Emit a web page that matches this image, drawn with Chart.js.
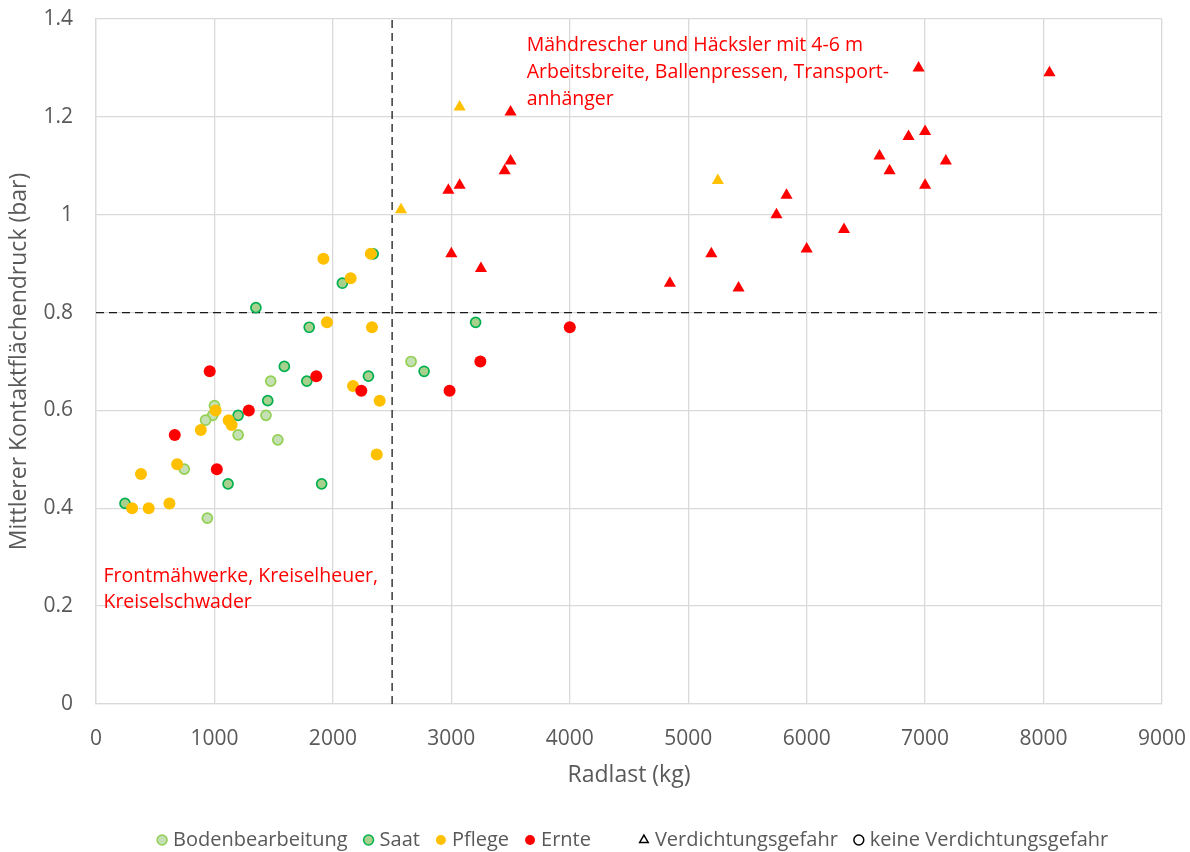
<!DOCTYPE html>
<html><head><meta charset="utf-8">
<script src="https://cdn.jsdelivr.net/npm/chart.js@4.4.1/dist/chart.umd.min.js"></script>
<style>html,body{margin:0;padding:0;background:#fff}#wrap{width:1190px;height:852px;position:relative}</style>
</head><body><div id="wrap"><canvas id="c" width="1190" height="852"></canvas></div>
<script>
// ---------- data ----------
const bodenX = [1475, 1000, 985, 925, 1435, 1200, 1535, 745, 940, 2660];
const bodenY = [0.66, 0.61, 0.59, 0.58, 0.59, 0.55, 0.54, 0.48, 0.38, 0.70];

const saatX = [2080, 1350, 1800, 1590, 1780, 1450, 1200, 1115, 1905, 245, 2340, 2770, 2300, 3205];
const saatY = [0.86, 0.81, 0.77, 0.69, 0.66, 0.62, 0.59, 0.45, 0.45, 0.41, 0.92, 0.68, 0.67, 0.78];

const pflegeX = [1920, 1950, 1010, 1120, 1145, 885, 685, 380, 305, 445, 620, 2320, 2150, 2330, 2170, 2395, 2370];
const pflegeY = [0.91, 0.78, 0.60, 0.58, 0.57, 0.56, 0.49, 0.47, 0.40, 0.40, 0.41, 0.92, 0.87, 0.77, 0.65, 0.62, 0.51];

const pflegeTriX = [2575, 3070, 5250];
const pflegeTriY = [1.01, 1.22, 1.07];

const ernteX = [960, 1860, 1290, 665, 1020, 2240, 4000, 3245, 2985];
const ernteY = [0.68, 0.67, 0.60, 0.55, 0.48, 0.64, 0.77, 0.70, 0.64];

const ernteTriX = [2975, 3070, 3450, 3500, 3000, 3250, 3500, 4845, 5195, 5425, 5745, 5830, 6000, 6315, 6615, 6700, 6860, 6945, 8050, 7000, 7175, 7000];
const ernteTriY = [1.05, 1.06, 1.09, 1.11, 0.92, 0.89, 1.21, 0.86, 0.92, 0.85, 1.00, 1.04, 0.93, 0.97, 1.12, 1.09, 1.16, 1.30, 1.29, 1.17, 1.11, 1.06];

const thresholdX = [2500];
const thresholdY = [0.8];

const xTickValues = [0, 1000, 2000, 3000, 4000, 5000, 6000, 7000, 8000, 9000];
const xTickLabels = ['0', '1000', '2000', '3000', '4000', '5000', '6000', '7000', '8000', '9000'];
const yTickValues = [0, 0.2, 0.4, 0.6, 0.8, 1.0, 1.2, 1.4];
const yTickLabels = ['0', '0.2', '0.4', '0.6', '0.8', '1', '1.2', '1.4'];

const legendLabels = ['Bodenbearbeitung', 'Saat', 'Pflege', 'Ernte', 'Verdichtungsgefahr', 'keine Verdichtungsgefahr'];
const annotTop = ['Mähdrescher und Häcksler mit 4-6 m', 'Arbeitsbreite, Ballenpressen, Transport-', 'anhänger'];
const annotBottom = ['Frontmähwerke, Kreiselheuer,', 'Kreiselschwader'];
const xTitle = 'Radlast (kg)';
const yTitle = 'Mittlerer Kontaktflächendruck (bar)';

// ---------- helpers ----------
const pts = (xs, ys) => xs.map((x, i) => ({x: x, y: ys[i]}));
const FONT = "'Open Sans', 'DejaVu Sans', sans-serif";
const GREY = '#595959';
const GRID = '#d9d9d9';
const C = {
  bodenFill: '#c5e0b4', bodenLine: '#92d050',
  saatFill: '#a9d18e', saatLine: '#00b050',
  pflege: '#ffc000', ernte: '#ff0000'
};
const xMin = xTickValues[0], xMax = xTickValues[xTickValues.length - 1];
const yMin = yTickValues[0], yMax = yTickValues[yTickValues.length - 1];

const circleSet = (label, data, fill, line, bw, r, order) => ({
  label, data, pointStyle: 'circle', pointRadius: r, pointHoverRadius: r,
  backgroundColor: fill, borderColor: line, pointBorderWidth: bw, borderWidth: bw, order
});
const triSet = (label, data, fill, order) => ({
  label, data, pointStyle: 'triangle', pointRadius: 7, pointHoverRadius: 7,
  backgroundColor: fill, borderColor: fill, pointBorderWidth: 0, borderWidth: 0, order
});
const dashSet = (data) => ({
  label: '', data, showLine: true, pointRadius: 0, borderColor: '#1a1a1a',
  borderWidth: 1.3, borderDash: [8, 5], fill: false, order: 20
});

const annotPlugin = {
  id: 'annot',
  afterDatasetsDraw(chart, args, opts) {
    const {ctx} = chart;
    const xs = chart.scales.x, ys = chart.scales.y;
    ctx.save();
    ctx.font = opts.size + 'px ' + FONT;
    ctx.fillStyle = opts.color;
    ctx.textBaseline = 'middle';
    ctx.textAlign = 'left';
    opts.blocks.forEach(b => {
      const px = xs.getPixelForValue(b.x);
      const py = ys.getPixelForValue(b.y);
      b.lines.forEach((t, i) => ctx.fillText(t, px, py + i * b.lineHeight));
    });
    ctx.restore();
  }
};

const bgPlugin = {
  id: 'bg',
  beforeDraw(chart) {
    const {ctx} = chart;
    ctx.save(); ctx.fillStyle = '#fff'; ctx.fillRect(0, 0, chart.width, chart.height); ctx.restore();
  }
};

function legendItems() {
  const item = (text, fill, stroke, lw, style) => ({
    text, fillStyle: fill, strokeStyle: stroke, lineWidth: lw, pointStyle: style,
    fontColor: GREY, hidden: false, datasetIndex: 0
  });
  return [
    item(' '.repeat(21), 'rgba(0,0,0,0)', 'rgba(0,0,0,0)', 0, 'circle'),
    item(legendLabels[0], C.bodenFill, C.bodenLine, 1.5, 'circle'),
    item(legendLabels[1], C.saatFill, C.saatLine, 1.5, 'circle'),
    item(legendLabels[2], C.pflege, C.pflege, 0, 'circle'),
    item(legendLabels[3], C.ernte, C.ernte, 0, 'circle'),
    item('', 'rgba(0,0,0,0)', 'rgba(0,0,0,0)', 0, 'circle'),
    item(legendLabels[4], '#ffffff', '#000000', 1.5, 'triangle'),
    item(legendLabels[5], '#ffffff', '#000000', 1.5, 'circle')
  ];
}

function build() {
  Chart.defaults.font.family = FONT;
  Chart.defaults.color = GREY;
  new Chart(document.getElementById('c'), {
    type: 'scatter',
    data: {
      datasets: [
        dashSet([{x: thresholdX[0], y: yMin}, {x: thresholdX[0], y: yMax}]),
        dashSet([{x: xMin, y: thresholdY[0]}, {x: xMax, y: thresholdY[0]}]),
        circleSet('Bodenbearbeitung', pts(bodenX, bodenY), C.bodenFill, C.bodenLine, 1.7, 5, 10),
        circleSet('Saat', pts(saatX, saatY), C.saatFill, C.saatLine, 1.7, 5, 9),
        circleSet('Pflege', pts(pflegeX, pflegeY), C.pflege, C.pflege, 0, 6, 8),
        triSet('Pflege Verdichtung', pts(pflegeTriX, pflegeTriY), C.pflege, 7),
        circleSet('Ernte', pts(ernteX, ernteY), C.ernte, C.ernte, 0, 6, 6),
        triSet('Ernte Verdichtung', pts(ernteTriX, ernteTriY), C.ernte, 5)
      ]
    },
    options: {
      responsive: false,
      animation: false,
      events: [],
      layout: {padding: {top: 19, right: 28, left: 0, bottom: -8}},
      scales: {
        x: {
          type: 'linear', min: xMin, max: xMax,
          afterFit(s) { s.height = 106; s.paddingLeft = 0; s.paddingRight = 0; },
          afterBuildTicks(s) { s.ticks = xTickValues.map(v => ({value: v})); },
          ticks: {callback: (v, i) => xTickLabels[i], font: {size: 21}, color: GREY, padding: 22, maxRotation: 0},
          grid: {color: GRID, lineWidth: 1.3, drawTicks: false},
          border: {color: GRID, width: 1.3},
          title: {display: true, text: xTitle, font: {size: 23}, color: GREY, padding: {top: 0, bottom: 21}}
        },
        y: {
          type: 'linear', min: yMin, max: yMax,
          afterFit(s) { s.width = 96; s.paddingTop = 0; s.paddingBottom = 0; },
          afterBuildTicks(s) { s.ticks = yTickValues.map(v => ({value: v})); },
          ticks: {callback: (v, i) => yTickLabels[i], font: {size: 21}, color: GREY, padding: 23},
          grid: {color: GRID, lineWidth: 1.3, drawTicks: false},
          border: {color: GRID, width: 1.3},
          title: {display: true, text: yTitle, font: {size: 23}, color: GREY, padding: {top: 6, bottom: 0}}
        }
      },
      plugins: {
        tooltip: {enabled: false},
        legend: {
          position: 'bottom', align: 'start',
          labels: {
            usePointStyle: true, boxWidth: 2, boxHeight: 7,
            padding: 20, font: {size: 20}, color: GREY,
            generateLabels: legendItems
          }
        },
        annot: {
          size: 19.5, color: '#ff0000',
          blocks: [
            {x: 3636, y: 1.346, lineHeight: 27, lines: annotTop},
            {x: 63, y: 0.261, lineHeight: 26, lines: annotBottom}
          ]
        }
      }
    },
    plugins: [bgPlugin, annotPlugin]
  });
}

if (document.fonts && document.fonts.load) {
  Promise.all([document.fonts.load("20px 'Open Sans'")]).then(build, build);
} else { build(); }
</script>
</body></html>
